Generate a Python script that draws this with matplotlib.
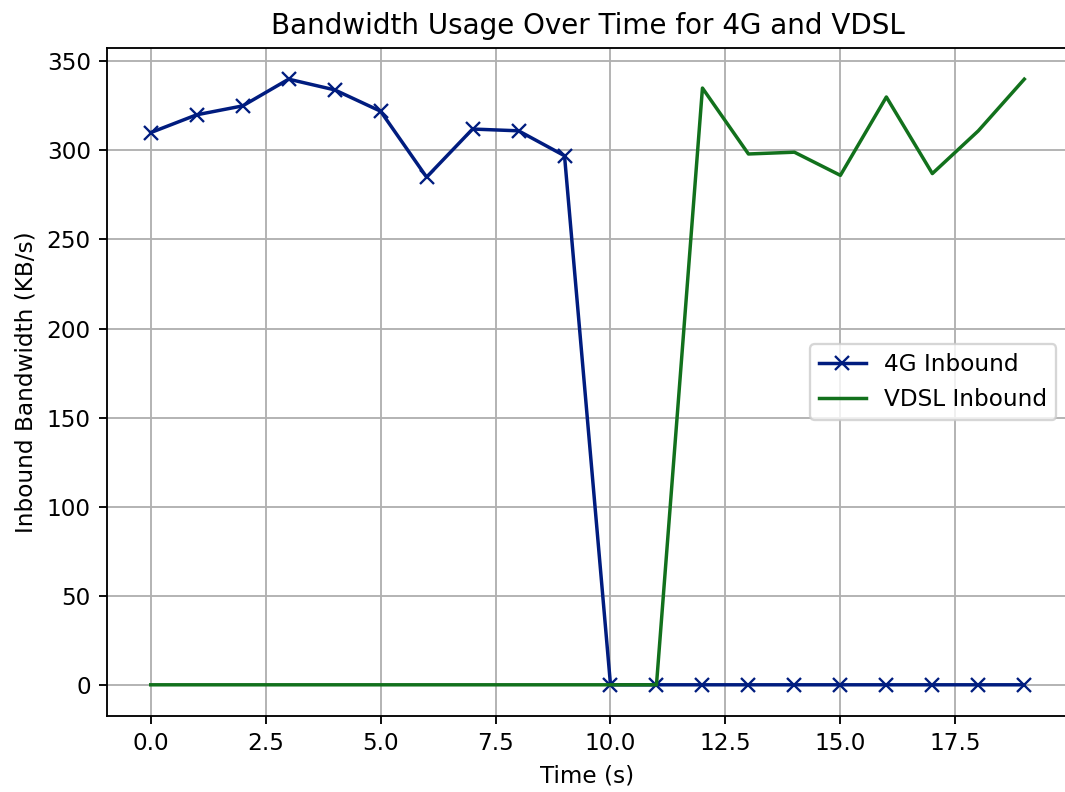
import matplotlib
matplotlib.use("Agg")
import matplotlib.pyplot as plt

time_s = list(range(20))
inbound_4g = [310, 320, 325, 340, 334, 322, 285, 312, 311, 297,
              0, 0, 0, 0, 0, 0, 0, 0, 0, 0]
inbound_vdsl = [0, 0, 0, 0, 0, 0, 0, 0, 0, 0, 0, 0,
                335, 298, 299, 286, 330, 287, 311, 340]

dpi = 166.4
fig = plt.figure(figsize=(1065 / dpi, 792 / dpi), dpi=dpi)
ax = fig.add_axes([0.1005, 0.096, 0.9023, 0.8434])

ax.plot(time_s, inbound_4g, color="#001c7f", marker="x", label="4G Inbound")
ax.plot(time_s, inbound_vdsl, color="#12711c", label="VDSL Inbound")

ax.set_xlim(-0.95, 19.95)
ax.set_ylim(-17.5, 357.5)
ax.set_title("Bandwidth Usage Over Time for 4G and VDSL")
ax.set_xlabel("Time (s)")
ax.set_ylabel("Inbound Bandwidth (KB/s)")
ax.grid(True)
ax.spines["right"].set_visible(False)
ax.legend(loc="center right")

fig.savefig("out.png", dpi=dpi)
